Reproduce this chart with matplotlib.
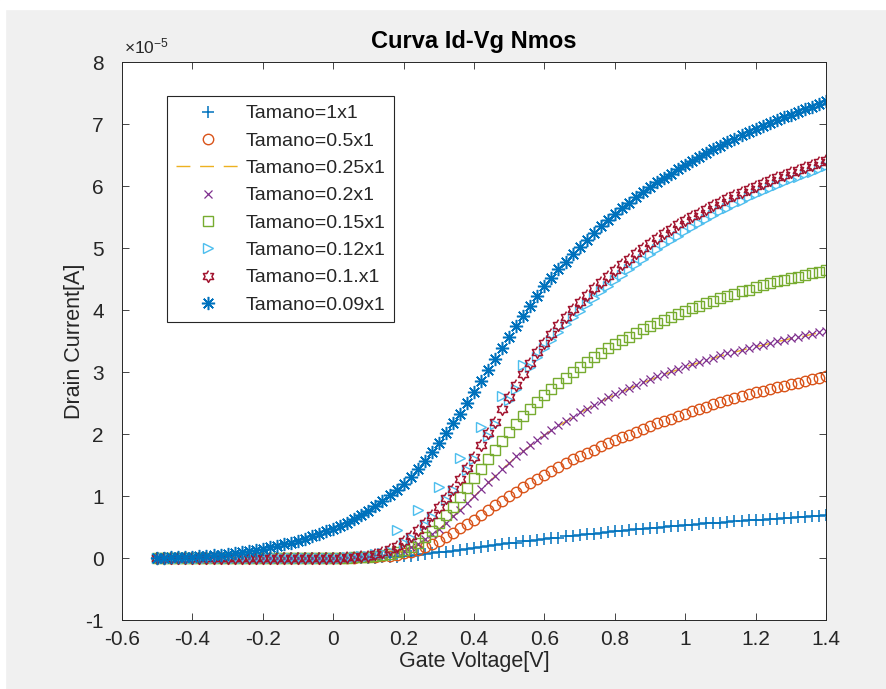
import numpy as np
import matplotlib
matplotlib.use("Agg")
import matplotlib.pyplot as plt
from matplotlib.path import Path
from matplotlib.patches import Rectangle

plt.rcParams['font.family'] = ['Liberation Sans', 'DejaVu Sans']
plt.rcParams['axes.unicode_minus'] = False
plt.rcParams['mathtext.default'] = 'regular'

# gate voltage sweep, -0.5 V .. 1.4 V in 0.02 V steps (96 points)
vg = np.round(np.linspace(-0.5, 1.4, 96), 2)

# drain current in units of 1e-5 A
id_1x1 = [
    0, 0, 0, 0, 0, 0, 0, 0, 0, 0,
    0, 0, 0, 0, 0, 0, 0, 0, 0, 0,
    0, 0, 0, 0, 0, 0, 0, 0, 0, 0,
    0, 0.005, 0.01, 0.015, 0.02, 0.03, 0.04, 0.05, 0.06, 0.075,
    0.09, 0.10, 0.12, 0.13, 0.15, 0.16, 0.18, 0.19, 0.21, 0.22,
    0.24, 0.25, 0.27, 0.28, 0.29, 0.31, 0.32, 0.33, 0.35, 0.36,
    0.37, 0.38, 0.39, 0.41, 0.42, 0.43, 0.44, 0.45, 0.46, 0.47,
    0.48, 0.49, 0.50, 0.51, 0.52, 0.53, 0.54, 0.55, 0.56, 0.565,
    0.57, 0.58, 0.59, 0.60, 0.605, 0.61, 0.62, 0.63, 0.635, 0.64,
    0.65, 0.66, 0.665, 0.67, 0.68, 0.69]

id_05x1 = [
    0, 0, 0, 0, 0, 0, 0, 0, 0, 0,
    0, 0, 0, 0, 0, 0, 0, 0, 0, 0,
    0, 0, 0, 0, 0, 0, 0, 0, 0.005, 0.01,
    0.015, 0.02, 0.03, 0.04, 0.055, 0.075, 0.10, 0.13, 0.17, 0.22,
    0.28, 0.34, 0.41, 0.48, 0.55, 0.62, 0.70, 0.77, 0.85, 0.92,
    1.00, 1.07, 1.14, 1.21, 1.28, 1.34, 1.41, 1.47, 1.53, 1.59,
    1.64, 1.70, 1.75, 1.80, 1.85, 1.90, 1.95, 1.99, 2.04, 2.08,
    2.13, 2.17, 2.21, 2.25, 2.29, 2.33, 2.37, 2.41, 2.44, 2.48,
    2.51, 2.55, 2.58, 2.61, 2.64, 2.67, 2.70, 2.73, 2.76, 2.78,
    2.81, 2.83, 2.86, 2.88, 2.91, 2.93]

id_025x1 = [
    0, 0, 0, 0, 0, 0, 0, 0, 0, 0,
    0, 0, 0, 0, 0, 0, 0, 0, 0, 0,
    0, 0, 0, 0, 0, 0, 0, 0.005, 0.01, 0.015,
    0.02, 0.03, 0.04, 0.06, 0.085, 0.115, 0.16, 0.22, 0.29, 0.37,
    0.46, 0.56, 0.66, 0.77, 0.88, 0.99, 1.10, 1.21, 1.32, 1.43,
    1.53, 1.63, 1.72, 1.81, 1.90, 1.98, 2.06, 2.13, 2.20, 2.27,
    2.34, 2.40, 2.46, 2.52, 2.58, 2.63, 2.68, 2.73, 2.78, 2.83,
    2.87, 2.92, 2.96, 3.00, 3.04, 3.08, 3.12, 3.15, 3.19, 3.22,
    3.26, 3.29, 3.32, 3.35, 3.38, 3.41, 3.43, 3.46, 3.49, 3.51,
    3.54, 3.56, 3.58, 3.61, 3.63, 3.65]

id_02x1 = [
    0, 0, 0, 0, 0, 0, 0, 0, 0, 0,
    0, 0, 0, 0, 0, 0, 0, 0, 0, 0,
    0, 0, 0, 0, 0, 0, 0, 0.005, 0.01, 0.015,
    0.02, 0.03, 0.04, 0.06, 0.09, 0.12, 0.17, 0.23, 0.30, 0.38,
    0.47, 0.57, 0.67, 0.78, 0.89, 1.00, 1.11, 1.22, 1.33, 1.44,
    1.54, 1.64, 1.73, 1.82, 1.91, 1.99, 2.07, 2.14, 2.21, 2.28,
    2.35, 2.41, 2.47, 2.53, 2.59, 2.64, 2.69, 2.74, 2.79, 2.84,
    2.88, 2.93, 2.97, 3.01, 3.05, 3.09, 3.13, 3.16, 3.20, 3.23,
    3.27, 3.30, 3.33, 3.36, 3.39, 3.42, 3.44, 3.47, 3.50, 3.52,
    3.55, 3.57, 3.59, 3.62, 3.64, 3.66]

id_015x1 = [
    0, 0, 0, 0, 0, 0, 0, 0, 0, 0,
    0, 0, 0, 0, 0, 0, 0, 0, 0, 0,
    0, 0, 0, 0, 0, 0, 0, 0.005, 0.01, 0.015,
    0.02, 0.03, 0.045, 0.065, 0.09, 0.13, 0.18, 0.25, 0.34, 0.44,
    0.56, 0.69, 0.83, 0.98, 1.13, 1.29, 1.44, 1.59, 1.74, 1.89,
    2.03, 2.16, 2.29, 2.41, 2.52, 2.63, 2.73, 2.82, 2.91, 3.00,
    3.08, 3.16, 3.24, 3.31, 3.38, 3.45, 3.51, 3.57, 3.63, 3.69,
    3.74, 3.79, 3.84, 3.89, 3.94, 3.98, 4.03, 4.07, 4.11, 4.15,
    4.19, 4.23, 4.26, 4.30, 4.33, 4.37, 4.40, 4.43, 4.46, 4.49,
    4.52, 4.54, 4.57, 4.59, 4.62, 4.64]

id_012x1 = [
    0, 0, 0, 0, 0, 0, 0, 0, 0, 0,
    0, 0, 0, 0, 0, 0, 0, 0, 0, 0,
    0, 0, 0, 0, 0, 0, 0.005, 0.01, 0.015, 0.025,
    0.04, 0.06, 0.08, 0.12, 0.45, 0.24, 0.32, 0.78, 0.53, 0.66,
    1.15, 0.94, 1.09, 1.62, 1.42, 1.60, 2.12, 1.97, 2.16, 2.62,
    2.55, 2.73, 3.12, 3.08, 3.24, 3.38, 3.52, 3.65, 3.77, 3.88,
    3.99, 4.10, 4.20, 4.30, 4.39, 4.48, 4.57, 4.66, 4.74, 4.82,
    4.90, 4.98, 5.06, 5.13, 5.20, 5.27, 5.34, 5.40, 5.47, 5.53,
    5.59, 5.65, 5.71, 5.76, 5.82, 5.87, 5.92, 5.97, 6.02, 6.06,
    6.11, 6.15, 6.19, 6.23, 6.28, 6.32]

id_01x1 = [
    0, 0, 0, 0, 0, 0, 0, 0, 0, 0,
    0, 0, 0, 0, 0, 0, 0, 0, 0, 0,
    0, 0, 0, 0, 0, 0, 0.005, 0.01, 0.015, 0.025,
    0.04, 0.06, 0.09, 0.14, 0.20, 0.27, 0.35, 0.45, 0.56, 0.69,
    0.82, 0.97, 1.12, 1.28, 1.45, 1.63, 1.82, 2.01, 2.20, 2.40,
    2.60, 2.79, 2.97, 3.15, 3.32, 3.47, 3.62, 3.76, 3.89, 4.01,
    4.13, 4.24, 4.35, 4.45, 4.55, 4.65, 4.74, 4.83, 4.92, 5.00,
    5.08, 5.16, 5.24, 5.31, 5.38, 5.45, 5.51, 5.57, 5.63, 5.69,
    5.75, 5.80, 5.85, 5.90, 5.95, 6.00, 6.05, 6.09, 6.14, 6.18,
    6.22, 6.26, 6.30, 6.34, 6.38, 6.42]

id_009x1 = [
    0.00, 0.005, 0.01, 0.01, 0.015, 0.02, 0.025, 0.035, 0.045, 0.05,
    0.06, 0.075, 0.09, 0.11, 0.13, 0.15, 0.17, 0.20, 0.23, 0.25,
    0.28, 0.31, 0.35, 0.39, 0.43, 0.47, 0.52, 0.57, 0.63, 0.69,
    0.76, 0.84, 0.92, 1.01, 1.10, 1.20, 1.31, 1.43, 1.57, 1.71,
    1.85, 2.01, 2.17, 2.33, 2.50, 2.68, 2.86, 3.03, 3.21, 3.39,
    3.57, 3.74, 3.91, 4.07, 4.23, 4.38, 4.52, 4.66, 4.78, 4.90,
    5.02, 5.13, 5.24, 5.35, 5.45, 5.55, 5.64, 5.73, 5.82, 5.90,
    5.98, 6.06, 6.13, 6.20, 6.27, 6.34, 6.40, 6.47, 6.53, 6.59,
    6.65, 6.71, 6.76, 6.82, 6.87, 6.92, 6.97, 7.02, 7.06, 7.11,
    7.15, 7.19, 7.24, 7.28, 7.32, 7.37]

labels = ['Tamano=1x1', 'Tamano=0.5x1', 'Tamano=0.25x1', 'Tamano=0.2x1',
          'Tamano=0.15x1', 'Tamano=0.12x1', 'Tamano=0.1.x1', 'Tamano=0.09x1']
xticks = [-0.6, -0.4, -0.2, 0, 0.2, 0.4, 0.6, 0.8, 1, 1.2, 1.4]
xticklabels = ['-0.6', '-0.4', '-0.2', '0', '0.2', '0.4', '0.6', '0.8', '1', '1.2', '1.4']
yticks = [-1, 0, 1, 2, 3, 4, 5, 6, 7, 8]

# matlab-like hexagram outline (six pointed star)
ang = np.deg2rad(90 + 30 * np.arange(12))
rad = np.where(np.arange(12) % 2 == 0, 1.0, 0.58)
hexa = Path(np.column_stack([rad * np.cos(ang), rad * np.sin(ang)]))

series = [
    (id_1x1,   dict(ls='none', marker='+', ms=8.5, mew=1.1, color='#0072BD')),
    (id_05x1,  dict(ls='none', marker='o', ms=7.5, mew=1.0, mfc='none', color='#D95319')),
    (id_025x1, dict(ls=(0, (10, 7)), lw=1.0, color='#EDB120')),
    (id_02x1,  dict(ls='none', marker='x', ms=5.5, mew=0.9, color='#7E2F8E')),
    (id_015x1, dict(ls='none', marker='s', ms=7, mew=1.0, mfc='none', color='#77AC30')),
    (id_012x1, dict(ls='none', marker='>', ms=7, mew=1.0, mfc='none', color='#4DBEEE')),
    (id_01x1,  dict(ls='none', marker=hexa, ms=8.5, mew=1.1, mfc='none', color='#A2142F')),
    (id_009x1, dict(ls='none', marker=(8, 2, 0), ms=9.5, mew=1.1, color='#0072BD')),
]

fig = plt.figure(figsize=(8.87, 6.89), dpi=100, facecolor='#f0f0f0')
# white screenshot margin on the top and left edge
fig.patches.append(Rectangle((0, 1 - 9 / 689), 1, 9 / 689, transform=fig.transFigure,
                             color='white', zorder=-1))
fig.patches.append(Rectangle((0, 0), 5 / 887, 1, transform=fig.transFigure,
                             color='white', zorder=-1))

ax = fig.add_axes([122 / 887, 69 / 689, 704 / 887, 558 / 689])
ax.set_facecolor('white')

for (vals, style), lab in zip(series, labels):
    ax.plot(vg, vals, label=lab, **style)

ax.set_xlim(-0.6, 1.4)
ax.set_ylim(-1, 8)
ax.set_xticks(xticks)
ax.set_xticklabels(xticklabels)
ax.set_yticks(yticks)
ax.set_yticklabels([str(t) for t in yticks])
ax.tick_params(direction='in', length=5, width=0.6, colors='#262626', labelsize=15,
               top=True, right=True)
ax.tick_params(axis='x', pad=7)
ax.tick_params(axis='y', pad=13)
for s in ax.spines.values():
    s.set_color('#262626')
    s.set_linewidth(0.7)

ax.set_title('Curva Id-Vg Nmos', fontsize=17, fontweight='bold', color='black', pad=10)
ax.set_xlabel('Gate Voltage[V]', fontsize=15.5, color='#262626', labelpad=2)
ax.set_ylabel('Drain Current[A]', fontsize=15.5, color='#262626', labelpad=0)
ax.text(0.003, 1.01, r'$\times10^{-5}$', transform=ax.transAxes, fontsize=12.5,
        color='#262626', ha='left', va='bottom')

leg = ax.legend(loc='upper left', bbox_to_anchor=(0.064, 0.939), borderaxespad=0,
                fontsize=14, handlelength=3.3, handletextpad=0.3, labelspacing=0.5,
                borderpad=0.45, fancybox=False, framealpha=1, edgecolor='#262626')
leg.get_frame().set_linewidth(0.8)
for t in leg.get_texts():
    t.set_color('#262626')

fig.savefig('out.png', dpi=100, facecolor=fig.get_facecolor())
